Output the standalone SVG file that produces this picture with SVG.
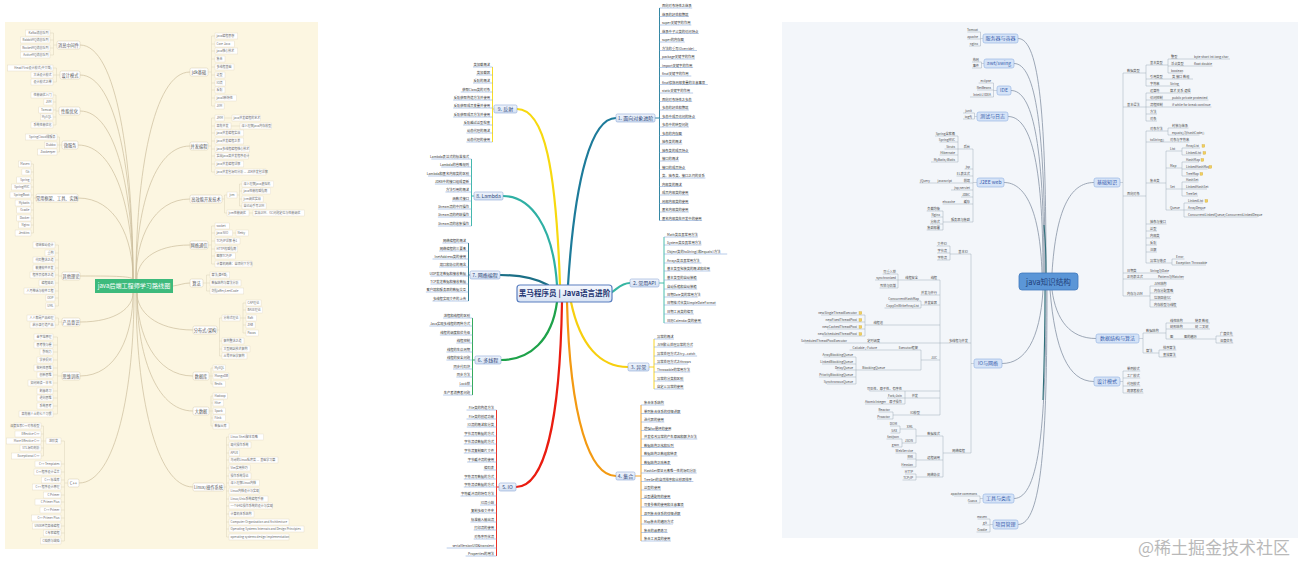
<svg xmlns="http://www.w3.org/2000/svg" width="1298" height="563" viewBox="0 0 1298 563" font-family="'Noto Sans CJK SC','Noto Sans',sans-serif">
<style>
.lb{fill:#fff;stroke:#e0d7c2;stroke-width:.4}
.ln{fill:#fff;stroke:#d6cbb0;stroke-width:.5}
.lt{font-size:3px;fill:#6b6b6b}
.lnt{font-size:4.2px;fill:#555;text-anchor:middle}
.te{text-anchor:end}
.tm{text-anchor:middle}
.lc{fill:none;stroke:#cbbd9c;stroke-width:.7}
.lk{fill:none;stroke:#d9cfb8;stroke-width:.45}
.mt{font-size:3.3px;fill:#333}
.mu{fill:none;stroke:#7ea4d8;stroke-width:.55}
.mn{fill:url(#mg);stroke:#8fa9d6;stroke-width:.6}
.mnt{font-size:5px;fill:#2d4578;text-anchor:middle}
.mc{fill:none;stroke-width:2.2;stroke-linecap:round}
.mb{fill:none;stroke-width:.9}
.rt{font-size:3.2px;fill:#4a4a4a}
.ru{fill:none;stroke:#9aa6b6;stroke-width:.45}
.rn{fill:#d5e3f7;stroke:#8fb0e0;stroke-width:.6}
.rnt{font-size:5px;fill:#3a5fae;text-anchor:middle}
.rc{fill:none;stroke:#8793a5;stroke-width:.8}
.ic{fill:#f1cf5e;stroke:#c9a43a;stroke-width:.3}
</style>
<defs>
<linearGradient id="mg" x1="0" y1="0" x2="0" y2="1"><stop offset="0" stop-color="#f1f5fc"/><stop offset="1" stop-color="#d3e0f3"/></linearGradient>
<linearGradient id="cg" x1="0" y1="0" x2="0" y2="1"><stop offset="0" stop-color="#f7f9fe"/><stop offset="1" stop-color="#d8e3f4"/></linearGradient>
</defs>
<rect width="1298" height="563" fill="#fff"/>

<!-- ================= LEFT MAP ================= -->
<rect x="5" y="22" width="313" height="527" fill="#fcf6e1"/>
<g id="left-connectors">
<path class="lc" d="M80,45C117,45 133,162 133,279M80,75C117,75 133,177 133,279M80,111C117,111 133,195 133,279M78,145C116,145 133,212 133,279M78,198C116,198 133,238 133,279M80,276C110,276 130,276 133,279M80,322C117,322 133,307 133,293M80,376C117,376 133,335 133,293M79,483C116,483 134,388 134,293"/>
<path class="lc" d="M190,72C153,72 136,176 136,279M190,146C153,146 136,212 136,279M190,199C153,199 136,239 136,279M190,245C153,245 137,262 137,279M173,286C180,285 184,283 190,283M193,330C155,330 137,311 137,293M193,376C155,376 137,334 137,293M193,411C155,411 137,352 137,293M193,487C155,487 136,390 136,293"/>
<path class="lk" d="M57,45H53.5M53.5,33V55M50,33H53.5M50,40H53.5M50,48H53.5M50,55H53.5
M60,75H56.5M56.5,68V82M53,68H56.5M53,75H56.5M53,82H56.5
M59,111H56M56,95V125M53,95H56M53,102H56M53,110H56M53,117H56M53,125H56
M62,145H59.5M59.5,137V152M57,137H59.5M57,145H59.5M57,152H59.5
M36,198H33.5M33.5,164V233M31,164H33.5M31,172H33.5M31,180H33.5M31,187H33.5M31,195H33.5M31,203H33.5M31,210H33.5M31,218H33.5M31,225H33.5M31,233H33.5
M62,276H58.5M58.5,245V306M55,245H58.5M55,253H58.5M55,260H58.5M55,268H58.5M55,275H58.5M55,283H58.5M55,291H58.5M55,298H58.5M55,306H58.5
M62,322H58.5M58.5,318V325M55,318H58.5M55,325H58.5
M62,376H57.5M57.5,337V414M53,337H57.5M53,345H57.5M53,352H57.5M53,360H57.5M53,368H57.5M53,375H57.5M53,383H57.5M53,391H57.5M53,398H57.5M53,406H57.5M53,414H57.5
M68,483H64.5M64.5,441V541M61,441H64.5M61,464H64.5M61,472H64.5M61,480H64.5M61,487H64.5M61,495H64.5M61,502H64.5M61,510H64.5M61,518H64.5M61,526H64.5M61,533H64.5M61,541H64.5
M46,441H43.5M43.5,426V456M41,426H43.5M41,434H43.5M41,441H43.5M41,448H43.5M41,456H43.5
M208,72H211.5M211.5,36V106M211.5,36H215M211.5,44H215M211.5,51H215M211.5,59H215M211.5,67H215M211.5,75H215M211.5,83H215M211.5,90H215M211.5,98H215M211.5,106H215
M208,146H211.5M211.5,118V172M211.5,118H215M211.5,126H215M211.5,133H215M211.5,141H215M211.5,149H215M211.5,156H215M211.5,164H215M211.5,172H215M224.1,118H232M231,126H240
M222,199H224.5M224.5,195V213M224.5,195H227M224.5,213H227M237,195H239.5M239.5,184V206M239.5,184H242M239.5,191H242M239.5,199H242M239.5,206H242M249,213H253
M208,245H211.5M211.5,226V264M211.5,226H215M211.5,233H215M211.5,241H215M211.5,249H215M211.5,256H215M211.5,264H215M232.6,233H236
M203,283H206.5M206.5,275V291M206.5,275H210M206.5,283H210M206.5,291H210
M217,330H219.5M219.5,318V356M219.5,318H222M219.5,341H222M219.5,349H222M219.5,356H222M240,318H243M243,303V333M243,303H246M243,310H246M243,318H246M243,325H246M243,333H246
M209,376H211M211,368V384M211,368H213M211,376H213M211,384H213
M209,411H211M211,396V426M211,396H213M211,403H213M211,411H213M211,418H213M211,426H213
M224,487H226.5M226.5,437V537M226.5,437H229M226.5,445H229M226.5,453H229M226.5,460H229M226.5,468H229M226.5,476H229M226.5,483H229M226.5,491H229M226.5,499H229M226.5,506H229M226.5,514H229M226.5,522H229M226.5,529H229M226.5,537H229"/>
</g>
<g id="l-center"><rect x="95" y="279" width="78" height="14" fill="#3dba7c"/><text x="134" y="288.3" font-size="6.1" fill="#fff" text-anchor="middle">java后端工程师学习路线图</text></g>
<g id="l-mq"><rect class="ln" x="57" y="41" width="23" height="8" rx="1.5"/><text class="lnt" x="68.5" y="46.5">消息中间件</text>
<rect class="lb" x="25.5" y="30" width="24.5" height="6"/><text class="lt te" x="48.5" y="34">Kafka消息队列</text>
<rect class="lb" x="20.4" y="37" width="29.6" height="6"/><text class="lt te" x="48.5" y="41">RabbitMQ消息队列</text>
<rect class="lb" x="20.4" y="45" width="29.6" height="6"/><text class="lt te" x="48.5" y="49">RocketMQ消息队列</text>
<rect class="lb" x="20.4" y="52" width="29.6" height="6"/><text class="lt te" x="48.5" y="56">ActiveMQ消息队列</text></g>
<g id="l-pattern"><rect class="ln" x="60" y="71" width="20" height="8" rx="1.5"/><text class="lnt" x="70" y="76.5">设计模式</text>
<rect class="lb" x="7.6" y="65" width="45.4" height="6"/><text class="lt te" x="51.5" y="69">Head First设计模式(中文版)</text>
<rect class="lb" x="31" y="72" width="22" height="6"/><text class="lt te" x="51.5" y="76">大话设计模式</text>
<rect class="lb" x="31" y="79" width="22" height="6"/><text class="lt te" x="51.5" y="83">设计模式之禅</text></g>
<g id="l-perf"><rect class="ln" x="59" y="107" width="21" height="8" rx="1.5"/><text class="lnt" x="69.5" y="112.5">性能优化</text>
<rect class="lb" x="31" y="92" width="22" height="6"/><text class="lt te" x="51.5" y="96">性能调优入门</text>
<rect class="lb" x="43.9" y="99" width="9.1" height="6"/><text class="lt te" x="51.5" y="103">JVM</text>
<rect class="lb" x="38.8" y="107" width="14.2" height="6"/><text class="lt te" x="51.5" y="111">Tomcat</text>
<rect class="lb" x="40.5" y="114" width="12.5" height="6"/><text class="lt te" x="51.5" y="118">MySQL</text>
<rect class="lb" x="31" y="122" width="22" height="6"/><text class="lt te" x="51.5" y="126">系统性能优化</text></g>
<g id="l-micro"><rect class="ln" x="62" y="141" width="16" height="8" rx="1.5"/><text class="lnt" x="70" y="146.5">微服务</text>
<rect class="lb" x="25.3" y="134" width="31.7" height="6"/><text class="lt te" x="55.5" y="138">SpringCloud微服务</text>
<rect class="lb" x="44.5" y="142" width="12.5" height="6"/><text class="lt te" x="55.5" y="146">Dubbo</text>
<rect class="lb" x="37.7" y="149" width="19.3" height="6"/><text class="lt te" x="55.5" y="153">Zookeeper</text></g>
<g id="l-frame"><rect class="ln" x="36" y="194" width="42" height="8" rx="1.5"/><text class="lnt" x="57" y="199.5">常用框架、工具、实践</text>
<rect class="lb" x="18.5" y="161" width="12.5" height="6"/><text class="lt te" x="29.5" y="165">Maven</text>
<rect class="lb" x="21.9" y="169" width="9.1" height="6"/><text class="lt te" x="29.5" y="173">Git</text>
<rect class="lb" x="16.8" y="177" width="14.2" height="6"/><text class="lt te" x="29.5" y="181">Spring</text>
<rect class="lb" x="11.7" y="184" width="19.3" height="6"/><text class="lt te" x="29.5" y="188">SpringMVC</text>
<rect class="lb" x="10" y="192" width="21" height="6"/><text class="lt te" x="29.5" y="196">SpringBoot</text>
<rect class="lb" x="15.1" y="200" width="15.9" height="6"/><text class="lt te" x="29.5" y="204">Mybatis</text>
<rect class="lb" x="16.8" y="207" width="14.2" height="6"/><text class="lt te" x="29.5" y="211">Gradle</text>
<rect class="lb" x="16.8" y="215" width="14.2" height="6"/><text class="lt te" x="29.5" y="219">Docker</text>
<rect class="lb" x="18.5" y="222" width="12.5" height="6"/><text class="lt te" x="29.5" y="226">Nginx</text>
<rect class="lb" x="15.1" y="230" width="15.9" height="6"/><text class="lt te" x="29.5" y="234">Jenkins</text></g>
<g id="l-theory"><rect class="ln" x="62" y="272" width="18" height="8" rx="1.5"/><text class="lnt" x="71" y="277.5">其他理论</text>
<rect class="lb" x="33" y="242" width="22" height="6"/><text class="lt te" x="53.5" y="246">领域驱动设计</text>
<rect class="lb" x="45" y="250" width="10" height="6"/><text class="lt te" x="53.5" y="254">重构</text>
<rect class="lb" x="33" y="257" width="22" height="6"/><text class="lt te" x="53.5" y="261">代码整洁之道</text>
<rect class="lb" x="33" y="265" width="22" height="6"/><text class="lt te" x="53.5" y="269">敏捷软件开发</text>
<rect class="lb" x="30" y="272" width="25" height="6"/><text class="lt te" x="53.5" y="276">程序员修炼之道</text>
<rect class="lb" x="39" y="280" width="16" height="6"/><text class="lt te" x="53.5" y="284">编程珠玑</text>
<rect class="lb" x="24" y="288" width="31" height="6"/><text class="lt te" x="53.5" y="292">人月神话与软件工程</text>
<rect class="lb" x="45.9" y="295" width="9.1" height="6"/><text class="lt te" x="53.5" y="299">OOP</text>
<rect class="lb" x="45.9" y="303" width="9.1" height="6"/><text class="lt te" x="53.5" y="307">UML</text></g>
<g id="l-product"><rect class="ln" x="62" y="318" width="18" height="8" rx="1.5"/><text class="lnt" x="71" y="323.5">产品意识</text>
<rect class="lb" x="27" y="315" width="28" height="6"/><text class="lt te" x="53.5" y="319">人人都是产品经理</text>
<rect class="lb" x="30" y="322" width="25" height="6"/><text class="lt te" x="53.5" y="326">启示录打造产品</text></g>
<g id="l-think"><rect class="ln" x="62" y="372" width="18" height="8" rx="1.5"/><text class="lnt" x="71" y="377.5">思维训练</text>
<rect class="lb" x="34" y="334" width="19" height="6"/><text class="lt te" x="51.5" y="338">金字塔原理</text>
<rect class="lb" x="34" y="342" width="19" height="6"/><text class="lt te" x="51.5" y="346">思考快与慢</text>
<rect class="lb" x="40" y="349" width="13" height="6"/><text class="lt te" x="51.5" y="353">影响力</text>
<rect class="lb" x="37" y="357" width="16" height="6"/><text class="lt te" x="51.5" y="361">学会提问</text>
<rect class="lb" x="34" y="365" width="19" height="6"/><text class="lt te" x="51.5" y="369">批判性思维</text>
<rect class="lb" x="37" y="372" width="16" height="6"/><text class="lt te" x="51.5" y="376">创新思维</text>
<rect class="lb" x="28" y="380" width="25" height="6"/><text class="lt te" x="51.5" y="384">如何阅读一本书</text>
<rect class="lb" x="37" y="388" width="16" height="6"/><text class="lt te" x="51.5" y="392">刻意练习</text>
<rect class="lb" x="37" y="395" width="16" height="6"/><text class="lt te" x="51.5" y="399">逆向思维</text>
<rect class="lb" x="37" y="403" width="16" height="6"/><text class="lt te" x="51.5" y="407">系统思考</text>
<rect class="lb" x="19" y="411" width="34" height="6"/><text class="lt te" x="51.5" y="415">高效能人士的七个习惯</text></g>
<g id="l-cpp"><rect class="ln" x="68" y="479" width="11" height="8" rx="1.5"/><text class="lnt" x="73.5" y="484.5">C++</text>
<rect class="lb" x="46" y="438" width="15" height="6"/><text class="lt tm" x="53.5" y="442.2">进阶类</text>
<rect class="lb" x="14" y="423" width="27" height="6"/><text class="lt te" x="39.5" y="427">深度探索C++对象模型</text>
<rect class="lb" x="15" y="431" width="26" height="6"/><text class="lt te" x="39.5" y="435">Effective C++</text>
<rect class="lb" x="6.4" y="438" width="34.6" height="6"/><text class="lt te" x="39.5" y="442">More Effective C++</text>
<rect class="lb" x="20" y="445" width="21" height="6"/><text class="lt te" x="39.5" y="449">STL源码剖析</text>
<rect class="lb" x="11.5" y="453" width="29.5" height="6"/><text class="lt te" x="39.5" y="457">Exceptional C++</text>
<rect class="lb" x="35" y="461" width="26" height="6"/><text class="lt te" x="59.5" y="465">C++ Templates</text>
<rect class="lb" x="34" y="469" width="27" height="6"/><text class="lt te" x="59.5" y="473">C++程序设计语言</text>
<rect class="lb" x="41.2" y="477" width="19.8" height="6"/><text class="lt te" x="59.5" y="481">C++ 标准库</text>
<rect class="lb" x="32.2" y="484" width="28.8" height="6"/><text class="lt te" x="59.5" y="488">C++ 程序设计原理</text>
<rect class="lb" x="43.4" y="492" width="17.6" height="6"/><text class="lt te" x="59.5" y="496">C Primer</text>
<rect class="lb" x="35" y="499" width="26" height="6"/><text class="lt te" x="59.5" y="503">C Primer Plus</text>
<rect class="lb" x="40" y="507" width="21" height="6"/><text class="lt te" x="59.5" y="511">C++ Primer</text>
<rect class="lb" x="31.5" y="515" width="29.5" height="6"/><text class="lt te" x="59.5" y="519">C++ Primer Plus</text>
<rect class="lb" x="32.2" y="523" width="28.8" height="6"/><text class="lt te" x="59.5" y="527">UNIX环境高级编程</text>
<rect class="lb" x="43.3" y="530" width="17.7" height="6"/><text class="lt te" x="59.5" y="534">C专家编程</text>
<rect class="lb" x="40.3" y="538" width="20.7" height="6"/><text class="lt te" x="59.5" y="542">C陷阱与缺陷</text></g>
<g id="l-jdk"><rect class="ln" x="190" y="68" width="18" height="8" rx="1.5"/><text class="lnt" x="199" y="73.5">jdk基础</text>
<rect class="lb" x="215" y="33" width="22.8" height="6"/><text class="lt" x="216.5" y="37">java编程思想</text>
<rect class="lb" x="215" y="41" width="19.3" height="6"/><text class="lt" x="216.5" y="45">Core Java</text>
<rect class="lb" x="215" y="48" width="22.8" height="6"/><text class="lt" x="216.5" y="52">java核心技术</text>
<rect class="lb" x="215" y="56" width="10" height="6"/><text class="lt" x="216.5" y="60">集合</text>
<rect class="lb" x="215" y="64" width="19" height="6"/><text class="lt" x="216.5" y="68">多线程基础</text>
<rect class="lb" x="215" y="72" width="10" height="6"/><text class="lt" x="216.5" y="76">泛型</text>
<rect class="lb" x="215" y="80" width="10.4" height="6"/><text class="lt" x="216.5" y="84">IO流</text>
<rect class="lb" x="215" y="87" width="10" height="6"/><text class="lt" x="216.5" y="91">反射</text>
<rect class="lb" x="215" y="95" width="21.5" height="6"/><text class="lt" x="216.5" y="99">java8新特性</text>
<rect class="lb" x="215" y="103" width="9.1" height="6"/><text class="lt" x="216.5" y="107">JVM</text></g>
<g id="l-conc"><rect class="ln" x="190" y="142" width="18" height="8" rx="1.5"/><text class="lnt" x="199" y="147.5">并发编程</text>
<rect class="lb" x="215" y="115" width="9.1" height="6"/><text class="lt" x="216.5" y="119">JMM</text>
<rect class="lb" x="232" y="115" width="28.8" height="6"/><text class="lt" x="233.5" y="119">java并发编程的艺术</text>
<rect class="lb" x="215" y="123" width="16" height="6"/><text class="lt" x="216.5" y="127">高效并发</text>
<rect class="lb" x="240" y="123" width="31.8" height="6"/><text class="lt" x="241.5" y="127">深入理解java内存模型</text>
<rect class="lb" x="215" y="130" width="28.8" height="6"/><text class="lt" x="216.5" y="134">java并发编程实战</text>
<rect class="lb" x="215" y="138" width="28.8" height="6"/><text class="lt" x="216.5" y="142">java并发编程之美</text>
<rect class="lb" x="215" y="146" width="34.8" height="6"/><text class="lt" x="216.5" y="150">java多线程编程核心技术</text>
<rect class="lb" x="215" y="153" width="33.5" height="6"/><text class="lt" x="216.5" y="157">实战java高并发程序设计</text>
<rect class="lb" x="215" y="161" width="28.8" height="6"/><text class="lt" x="216.5" y="165">java并发编程详解</text>
<rect class="lb" x="215" y="169" width="51" height="6"/><text class="lt" x="216.5" y="173">java并发包源码分析 — JDK并发包详解</text></g>
<g id="l-eff"><rect class="ln" x="190" y="195" width="32" height="8" rx="1.5"/><text class="lnt" x="206" y="200.5">高效能开发技术</text>
<rect class="lb" x="227" y="192" width="10" height="6"/><text class="lt tm" x="232" y="196">jvm</text>
<rect class="lb" x="242" y="181" width="31.8" height="6"/><text class="lt" x="243.5" y="185">深入理解java虚拟机</text>
<rect class="lb" x="242" y="188" width="28.8" height="6"/><text class="lt" x="243.5" y="192">java性能权威指南</text>
<rect class="lb" x="242" y="196" width="21.1" height="6"/><text class="lt" x="243.5" y="200">jvm调优实战</text>
<rect class="lb" x="242" y="203" width="24.1" height="6"/><text class="lt" x="243.5" y="207">自己动手写JVM</text>
<rect class="lb" x="227" y="210" width="22" height="6"/><text class="lt" x="228.5" y="214">jvm性能调优</text>
<rect class="lb" x="253" y="210" width="51.5" height="6"/><text class="lt" x="254.5" y="214">实战JVM、GC问题定位与性能调优</text></g>
<g id="l-net"><rect class="ln" x="190" y="241" width="18" height="8" rx="1.5"/><text class="lnt" x="199" y="246.5">网络通信</text>
<rect class="lb" x="215" y="223" width="14.2" height="6"/><text class="lt" x="216.5" y="227">socket</text>
<rect class="lb" x="215" y="230" width="17.6" height="6"/><text class="lt" x="216.5" y="234">java NIO</text>
<rect class="lb" x="236" y="230" width="12.5" height="6"/><text class="lt" x="237.5" y="234">Netty</text>
<rect class="lb" x="215" y="238" width="25" height="6"/><text class="lt" x="216.5" y="242">TCP/IP详解 卷1</text>
<rect class="lb" x="215" y="246" width="22.8" height="6"/><text class="lt" x="216.5" y="250">HTTP权威指南</text>
<rect class="lb" x="215" y="253" width="20.2" height="6"/><text class="lt" x="216.5" y="257">图解TCP/IP</text>
<rect class="lb" x="215" y="261" width="37" height="6"/><text class="lt" x="216.5" y="265">计算机网络：自顶向下方法</text></g>
<g id="l-algo"><rect class="ln" x="190" y="279" width="13" height="8" rx="1.5"/><text class="lnt" x="196.5" y="284.5">算法</text>
<rect class="lb" x="210" y="272" width="19.8" height="6"/><text class="lt" x="211.5" y="276">算法(第4版)</text>
<rect class="lb" x="210" y="280" width="31" height="6"/><text class="lt" x="211.5" y="284">数据结构与算法分析</text>
<rect class="lb" x="210" y="288" width="33.8" height="6"/><text class="lt" x="211.5" y="292">剑指offer/LeetCode</text></g>
<g id="l-dist"><rect class="ln" x="193" y="326" width="24" height="8" rx="1.5"/><text class="lnt" x="205" y="331.5">分布式/架构</text>
<rect class="lb" x="222" y="315" width="18" height="6"/><text class="lt tm" x="231" y="319">分布式理论</text>
<rect class="lb" x="246" y="300" width="15.1" height="6"/><text class="lt" x="247.5" y="304">CAP理论</text>
<rect class="lb" x="246" y="307" width="16.8" height="6"/><text class="lt" x="247.5" y="311">BASE理论</text>
<rect class="lb" x="246" y="315" width="10.8" height="6"/><text class="lt" x="247.5" y="319">Raft</text>
<rect class="lb" x="246" y="322" width="9.1" height="6"/><text class="lt" x="247.5" y="326">ZAB</text>
<rect class="lb" x="246" y="330" width="12.5" height="6"/><text class="lt" x="247.5" y="334">Paxos</text>
<rect class="lb" x="222" y="338" width="22" height="6"/><text class="lt" x="223.5" y="342">架构整洁之道</text>
<rect class="lb" x="222" y="346" width="28" height="6"/><text class="lt" x="223.5" y="350">大型网站技术架构</text>
<rect class="lb" x="222" y="353" width="25" height="6"/><text class="lt" x="223.5" y="357">从零开始学架构</text></g>
<g id="l-db"><rect class="ln" x="193" y="372" width="16" height="8" rx="1.5"/><text class="lnt" x="201" y="377.5">数据库</text>
<rect class="lb" x="213" y="365" width="12.5" height="6"/><text class="lt" x="214.5" y="369">MySQL</text>
<rect class="lb" x="213" y="373" width="15.9" height="6"/><text class="lt" x="214.5" y="377">MongoDB</text>
<rect class="lb" x="213" y="381" width="12.5" height="6"/><text class="lt" x="214.5" y="385">Redis</text></g>
<g id="l-bigdata"><rect class="ln" x="193" y="407" width="16" height="8" rx="1.5"/><text class="lnt" x="201" y="412.5">大数据</text>
<rect class="lb" x="213" y="393" width="14.2" height="6"/><text class="lt" x="214.5" y="397">Hadoop</text>
<rect class="lb" x="213" y="400" width="10.8" height="6"/><text class="lt" x="214.5" y="404">Hive</text>
<rect class="lb" x="213" y="408" width="12.5" height="6"/><text class="lt" x="214.5" y="412">Spark</text>
<rect class="lb" x="213" y="415" width="12.5" height="6"/><text class="lt" x="214.5" y="419">Flink</text>
<rect class="lb" x="213" y="423" width="16" height="6"/><text class="lt" x="214.5" y="427">数据仓库</text></g>
<g id="l-linux"><rect class="ln" x="193" y="483" width="31" height="8" rx="1.5"/><text class="lnt" x="208.5" y="488.5">Linux/操作系统</text>
<rect class="lb" x="229" y="434" width="34.7" height="6"/><text class="lt" x="230.5" y="438">Linux Shell脚本攻略</text>
<rect class="lb" x="229" y="442" width="22" height="6"/><text class="lt" x="230.5" y="446">现代操作系统</text>
<rect class="lb" x="229" y="450" width="10.8" height="6"/><text class="lt" x="230.5" y="454">APUE</text>
<rect class="lb" x="229" y="457" width="49" height="6"/><text class="lt" x="230.5" y="461">鸟哥的Linux私房菜 — 基础学习篇</text>
<rect class="lb" x="229" y="465" width="21.1" height="6"/><text class="lt" x="230.5" y="469">Vim实用技巧</text>
<rect class="lb" x="229" y="473" width="22" height="6"/><text class="lt" x="230.5" y="477">操作系统导论</text>
<rect class="lb" x="229" y="480" width="30.5" height="6"/><text class="lt" x="230.5" y="484">深入理解Linux内核</text>
<rect class="lb" x="229" y="488" width="30.5" height="6"/><text class="lt" x="230.5" y="492">Linux内核设计与实现</text>
<rect class="lb" x="229" y="496" width="39" height="6"/><text class="lt" x="230.5" y="500">Linux/Unix系统编程手册</text>
<rect class="lb" x="229" y="503" width="43.4" height="6"/><text class="lt" x="230.5" y="507">一个64位操作系统的设计与实现</text>
<rect class="lb" x="229" y="511" width="25" height="6"/><text class="lt" x="230.5" y="515">计算机体系结构</text>
<rect class="lb" x="229" y="519" width="60" height="6"/><text class="lt" x="230.5" y="523">Computer Organization and Architecture</text>
<rect class="lb" x="229" y="526" width="75" height="6"/><text class="lt" x="230.5" y="530">Operating Systems Internals and Design Principles</text>
<rect class="lb" x="229" y="534" width="60" height="6"/><text class="lt" x="230.5" y="538">operating systems design implementation</text></g>

<!-- ================= MIDDLE MAP ================= -->
<g id="middle-connectors">
<path class="mc" stroke="#f7d90f" d="M560,285C556,170 545,109 517,109"/>
<path class="mc" stroke="#2fb0a4" d="M557,285C553,225 530,196 503,196"/>
<path class="mc" stroke="#1b6f86" d="M548,285C535,278 520,275 500,275"/>
<path class="mc" stroke="#1ea24a" d="M557,302C552,340 530,360 501,360"/>
<path class="mc" stroke="#ea1c10" d="M562,302C560,420 545,487 516,487"/>
<path class="mc" stroke="#f39a12" d="M567,302C570,420 590,476 616,476"/>
<path class="mc" stroke="#f7cf0e" d="M571,302C580,345 600,367 628,367"/>
<path class="mc" stroke="#35b5a2" d="M612,292C618,288 622,283 630,283"/>
<path class="mc" stroke="#1d7b9a" d="M568,285C575,175 592,118 616,118"/>
<path class="mb" stroke="#f7d90f" d="M494,109H492.5M492.5,67V142"/>
<path class="mb" stroke="#2fb0a4" d="M474,196H471.5M471.5,159V226"/>
<path class="mb" stroke="#1b6f86" d="M470,275H468.5M468.5,243V301"/>
<path class="mb" stroke="#1ea24a" d="M475,360H472.5M472.5,318V395"/>
<path class="mb" stroke="#ea1c10" d="M499,487H496.5M496.5,410V556"/>
<path class="mb" stroke="#1d7b9a" d="M655,118H659.5M659.5,8V220.5"/>
<path class="mb" stroke="#35b5a2" d="M659,283H664M664,237V323"/>
<path class="mb" stroke="#f7cf0e" d="M649,367H654M654,339V389"/>
<path class="mb" stroke="#f39a12" d="M635,476H641M641,405V541"/>
<path class="mu" d="M473,67H492.5M476.3,75H492.5M473,83H492.5M460.7,92H492.5M453.2,100H492.5M453.2,108H492.5M453.2,117H492.5M463.1,125H492.5M466.4,133H492.5M466.4,142H492.5
M431.3,159H471.5M441.2,167H471.5M428,176H471.5M434.9,184H471.5M445.4,192H471.5M452,201H471.5M437.9,209H471.5M437.9,217H471.5M437.9,226H471.5
M442.4,243H468.5M439.1,251H468.5M432.5,259H468.5M439.1,267H468.5M430.4,276H468.5M430.4,284H468.5M425.9,292H468.5M432.5,301H468.5
M443.1,318H472.5M429.3,326H472.5M439.8,335H472.5M456.3,343H472.5M446.4,352H472.5M446.4,360H472.5M453,369H472.5M456.3,377H472.5M459,386H472.5M443.1,395H472.5
M466.5,410H496.5M466.5,419H496.5M466.8,427H496.5M463.8,436H496.5M463.8,444H496.5M463.8,453H496.5M467.1,462H496.5M483.6,470H496.5M463.8,479H496.5M463.8,487H496.5M460.5,496H496.5M480,505H496.5M470.4,513H496.5M470.4,522H496.5M473.7,530H496.5M473.7,539H496.5M446.7,548H496.5M465.6,556H496.5
M659.5,8H692.2M659.5,16.5H688.9M659.5,25H691.3M659.5,33.5H698.8M659.5,42H684.7M659.5,50.5H697M659.5,59H694.9M659.5,67.5H693.1M659.5,76H691.3M659.5,84.5H707.8M659.5,93H693.1M659.5,101.5H692.2M659.5,110H688.9M659.5,118.5H695.5M659.5,127H688.9M659.5,135.5H682.3M659.5,144H682.3M659.5,152.5H688.9M659.5,161H679M659.5,169.5H685.6M659.5,178H705.4M659.5,186.5H682.3M659.5,195H688.9M659.5,203.5H688.9M659.5,212H688.9M659.5,220.5H702.1
M664,237H697.8M664,245H701.4M664,254H727.2M664,263H701.4M664,271H710.4M664,280H697.2M664,289H697.2M664,297H697.8M664,305H716.1M664,314H693.9M664,323H701.7
M654,339H674M654,347H692.6M654,356H697.1M654,364H688.1M654,372H690.2M654,381H683.9M654,389H683.9
M641,405H664.3M641,413.5H680.8M641,422H664.3M641,430.5H669.7M641,439H697.3M641,447.5H674.2M641,456H677.5M641,464.5H670.9M641,473H696.7M641,481.5H693.4M641,490H661M641,498.5H670.9M641,507H684.1M641,515.5H680.8M641,524H673M641,532.5H667.6M641,541H670.9"/>
</g>
<g id="m-center"><rect x="517" y="285" width="95" height="17" rx="3" fill="url(#cg)" stroke="#5b7fc0" stroke-width="1.2"/><text x="564.5" y="296.3" font-size="7.6" font-weight="bold" fill="#1e3470" text-anchor="middle">黑马程序员 | Java语言进阶</text></g>
<g id="m-reflect"><rect class="mn" x="494" y="105" width="23" height="8" rx="1.5"/><text class="mnt" x="505.5" y="110.8">9. 反射</text>
<text class="mt te" x="490" y="66">类加载概述</text><text class="mt te" x="490" y="74">类加载器</text><text class="mt te" x="490" y="82">反射的概述</text><text class="mt te" x="490" y="91">获取Class类的对象</text><text class="mt te" x="490" y="99">反射获取构造方法并使用</text><text class="mt te" x="490" y="107">反射获取成员变量并使用</text><text class="mt te" x="490" y="116">反射获取成员方法并使用</text><text class="mt te" x="490" y="124">反射越过泛型检查</text><text class="mt te" x="490" y="132">动态代理的概述</text><text class="mt te" x="490" y="141">动态代理的使用</text></g>
<g id="m-lambda"><rect class="mn" x="474" y="192" width="29" height="8" rx="1.5"/><text class="mnt" x="488.5" y="197.8">8. Lambda</text>
<text class="mt te" x="469" y="158">Lambda表达式的标准格式</text><text class="mt te" x="469" y="166">Lambda的省略规则</text><text class="mt te" x="469" y="175">Lambda和匿名内部类的区别</text><text class="mt te" x="469" y="183">JDK8中的接口组成更新</text><text class="mt te" x="469" y="191">方法引用的概述</text><text class="mt te" x="469" y="200">函数式接口</text><text class="mt te" x="469" y="208">Stream流的中间操作</text><text class="mt te" x="469" y="216">Stream流的终结操作</text><text class="mt te" x="469" y="225">Stream流的收集操作</text></g>
<g id="m-net"><rect class="mn" x="470" y="271" width="30" height="8" rx="1.5"/><text class="mnt" x="485" y="276.8">7. 网络编程</text>
<text class="mt te" x="466" y="242">网络编程的概述</text><text class="mt te" x="466" y="250">网络编程的三要素</text><text class="mt te" x="466" y="258">InetAddress类的使用</text><text class="mt te" x="466" y="266">端口和协议的概念</text><text class="mt te" x="466" y="275">UDP发送数据和接收数据</text><text class="mt te" x="466" y="283">TCP发送数据和接收数据</text><text class="mt te" x="466" y="291">客户端和服务器的数据交互</text><text class="mt te" x="466" y="300">多线程实现文件的上传</text></g>
<g id="m-thread"><rect class="mn" x="475" y="356" width="26" height="8" rx="1.5"/><text class="mnt" x="488" y="361.8">6. 多线程</text>
<text class="mt te" x="470" y="317">进程和线程的区别</text><text class="mt te" x="470" y="325">Java实现多线程的两种方式</text><text class="mt te" x="470" y="334">线程的调度和优先级</text><text class="mt te" x="470" y="342">线程控制</text><text class="mt te" x="470" y="351">线程的生命周期</text><text class="mt te" x="470" y="359">线程的安全问题</text><text class="mt te" x="470" y="368">同步代码块</text><text class="mt te" x="470" y="376">同步方法</text><text class="mt te" x="470" y="385">Lock锁</text><text class="mt te" x="470" y="394">生产者消费者问题</text></g>
<g id="m-io"><rect class="mn" x="499" y="483" width="17" height="8" rx="1.5"/><text class="mnt" x="507.5" y="488.8">5. IO</text>
<text class="mt te" x="494" y="409">File类的构造方法</text><text class="mt te" x="494" y="418">File类的创建功能</text><text class="mt te" x="494" y="426">IO流的概述和分类</text><text class="mt te" x="494" y="435">字节流写数据的方式</text><text class="mt te" x="494" y="443">字节流读数据的方式</text><text class="mt te" x="494" y="452">字节流复制图片文件</text><text class="mt te" x="494" y="461">字节缓冲流的使用</text><text class="mt te" x="494" y="469">编码表</text><text class="mt te" x="494" y="478">字符流写数据的方式</text><text class="mt te" x="494" y="486">字符流读数据的方式</text><text class="mt te" x="494" y="495">字符缓冲流的特有方法</text><text class="mt te" x="494" y="504">IO流小结</text><text class="mt te" x="494" y="512">复制多级文件夹</text><text class="mt te" x="494" y="521">标准输入输出流</text><text class="mt te" x="494" y="529">打印流的使用</text><text class="mt te" x="494" y="538">对象序列化流</text><text class="mt te" x="494" y="547">serialVersionUID&amp;transient</text><text class="mt te" x="494" y="555">Properties的用法</text></g>
<g id="m-oop"><rect class="mn" x="616" y="114" width="39" height="8" rx="1.5"/><text class="mnt" x="635.5" y="119.8">1. 面向对象进阶</text>
<text class="mt" x="662" y="7">面向对象特性之继承</text><text class="mt" x="662" y="15.5">继承的好处和弊端</text><text class="mt" x="662" y="24">super关键字的作用</text><text class="mt" x="662" y="32.5">继承中子父类的访问特点</text><text class="mt" x="662" y="41">super的内存图</text><text class="mt" x="662" y="49.5">方法的重写(Override)</text><text class="mt" x="662" y="58">package关键字的作用</text><text class="mt" x="662" y="66.5">import关键字的作用</text><text class="mt" x="662" y="75">final关键字的作用</text><text class="mt" x="662" y="83.5">final修饰局部变量的注意事项</text><text class="mt" x="662" y="92">static关键字的作用</text><text class="mt" x="662" y="100.5">面向对象特性之多态</text><text class="mt" x="662" y="109">多态的好处和弊端</text><text class="mt" x="662" y="117.5">多态中成员访问的特点</text><text class="mt" x="662" y="126">多态中的转型问题</text><text class="mt" x="662" y="134.5">多态的内存图</text><text class="mt" x="662" y="143">抽象类的概述</text><text class="mt" x="662" y="151.5">抽象类的成员特点</text><text class="mt" x="662" y="160">接口的概述</text><text class="mt" x="662" y="168.5">接口的成员特点</text><text class="mt" x="662" y="177">类、抽象类、接口之间的关系</text><text class="mt" x="662" y="185.5">内部类的概述</text><text class="mt" x="662" y="194">成员内部类的使用</text><text class="mt" x="662" y="202.5">局部内部类的使用</text><text class="mt" x="662" y="211">匿名内部类的使用</text><text class="mt" x="662" y="219.5">匿名内部类在开发中的使用</text></g>
<g id="m-api"><rect class="mn" x="630" y="279" width="29" height="8" rx="1.5"/><text class="mnt" x="644.5" y="284.8">2. 常用API</text>
<text class="mt" x="667" y="236">Math类及其常用方法</text><text class="mt" x="667" y="244">System类及其常用方法</text><text class="mt" x="667" y="253">Object类的toString()和equals()方法</text><text class="mt" x="667" y="262">Arrays类及其常用方法</text><text class="mt" x="667" y="270">基本类型包装类的概述和应用</text><text class="mt" x="667" y="279">基本类型的自动装箱</text><text class="mt" x="667" y="288">自动拆箱和自动装箱</text><text class="mt" x="667" y="296">日期Date类的常用方法</text><text class="mt" x="667" y="304">日期格式化类SimpleDateFormat</text><text class="mt" x="667" y="313">日期工具类的编写</text><text class="mt" x="667" y="322">日历Calendar类的使用</text></g>
<g id="m-exc"><rect class="mn" x="628" y="363" width="21" height="8" rx="1.5"/><text class="mnt" x="638.5" y="368.8">3. 异常</text>
<text class="mt" x="657" y="338">异常的概述</text><text class="mt" x="657" y="346">JVM默认处理异常的方式</text><text class="mt" x="657" y="355">异常处理方式之try...catch</text><text class="mt" x="657" y="363">异常处理方式之throws</text><text class="mt" x="657" y="371">Throwable的常用方法</text><text class="mt" x="657" y="380">异常的分类和区别</text><text class="mt" x="657" y="388">自定义异常的使用</text></g>
<g id="m-coll"><rect class="mn" x="616" y="472" width="19" height="8" rx="1.5"/><text class="mnt" x="625.5" y="477.8">4. 集合</text>
<text class="mt" x="644" y="404">集合体系结构</text><text class="mt" x="644" y="412.5">单列集合体系的详细讲解</text><text class="mt" x="644" y="421">迭代器的使用</text><text class="mt" x="644" y="429.5">增强for循环的使用</text><text class="mt" x="644" y="438">并发修改异常的产生原因和解决办法</text><text class="mt" x="644" y="446.5">数据结构之栈和队列</text><text class="mt" x="644" y="455">数据结构之数组和链表</text><text class="mt" x="644" y="463.5">数据结构之哈希表</text><text class="mt" x="644" y="472">HashSet保证元素唯一性的源码分析</text><text class="mt" x="644" y="480.5">TreeSet的自然排序和比较器排序</text><text class="mt" x="644" y="489">泛型的使用</text><text class="mt" x="644" y="497.5">泛型通配符的使用</text><text class="mt" x="644" y="506">可变参数的使用和注意事项</text><text class="mt" x="644" y="514.5">双列集合体系的详细讲解</text><text class="mt" x="644" y="523">Map集合的遍历方式</text><text class="mt" x="644" y="531.5">集合的嵌套练习</text><text class="mt" x="644" y="540">集合工具类的使用</text></g>

<!-- ================= RIGHT MAP ================= -->
<rect x="782" y="22" width="516" height="516" fill="#f3f6fa"/>
<g id="right-connectors">
<path class="rc" d="M1046,273C1046,120 1040,38.5 1018,38.5M1045,273C1045,130 1036,63.5 1014,63.5M1044,273C1044,140 1032,90.5 1011,90.5M1043,273C1043,160 1030,116.5 1008,116.5M1042,273C1040,210 1025,182.5 1004,182.5M1052,273C1056,210 1070,182.5 1094,182.5M1043,290C1040,340 1025,363.5 1002,363.5M1046,290C1046,420 1040,498.5 1014,498.5M1047,290C1047,440 1042,524.5 1018,524.5M1052,290C1056,320 1070,338.5 1096,338.5M1050,290C1055,350 1068,381.5 1094,381.5"/>
<path d="M1046,273C1046,250 1045,235 1044,225M1045,290C1045,330 1044,370 1043,400" fill="none" stroke="#2f6f7a" stroke-width="1.1"/>
<path class="ru" d="M983,38.5H980.5M980.5,32V46M967.3,32H980.5M967.3,39H980.5M969,46H980.5
M984,63.5H981.5M981.5,62V68M972,62H981.5M972,68H981.5
M997,90.5H993.5M993.5,83V97M978.6,83H993.5M977,90H993.5M970,97H993.5
M977,116.5H974.5M974.5,113V119M963,113H974.5M963,119H974.5
M977,182.5H973M973,149V222M963,149H973M963,149H958M958,136V162M935,136H958M939.5,142H958M944.5,149H958M939.5,155H958M931,162H958M964.5,169H973M956.5,176H973M963,183H973M919.5,183H963M951,190H973M961,197H973M942.6,204H973M950.5,222H973M950.5,222H943M943,211V230M926.7,211H943M931,217H943M930,224H943M926.7,230H943
M974,363.5H971M971,254V453M957.7,254H971M957.7,254H950M950,246V260M936.7,246H950M937,253H950M937,260H950
M948.3,343H971M940,343H948.3M940,280V415M930,280H940M904.7,280H930M904.7,280H898M898,274V288M882.7,274H898M875,280H898M879.5,288H898M920.5,295H940M923.7,305H940M923.7,305H921M921,301V308M889.6,301H921M884.5,308H921
M873,325H940M873,325H865M865,315V336M821,315H865M828.5,322H865M827,329H865M822.5,336H865M804.5,343H940
M931,360H940M931,360H921M921,350V370M849.5,350H921M863,370H921M863,370H856M856,357V384M823.7,357H856M822,364H856M836.5,370H856M818.9,377H856M826.9,384H856
M869.5,391H940M911.5,398H940M911.5,398H905M905,391V404M887,398H905M865,404H905M910,415H940M910,415H893M893,412V419M878.5,412H893M877,419H893
M952,453H971M952,453H943M943,436V477M927,436H943M927,436H916M916,429V443M906,429H916M906,429H900M900,426V433M890,426H900M890.5,433H900M904.5,443H916M904.5,443H902M902,439V447M886.5,439H902M891.7,447H902M927,460H943M927,460H916M916,453V467M895.5,453H916M907,459H916M901.5,467H916M927,477H943M927,477H916M916,474V480M905,474H916M902.5,480H916
M983,498.5H980M980,496V503M954,496H980M968,503H980
M993,524.5H990M990,519V532M977.5,519H990M982,525H990M976.5,532H990
M1120,182.5H1123M1123,73V296M1123,73H1140.3M1140.3,73H1146M1146,65V86M1146,65H1163.3M1163.3,65H1168M1168,59V73M1168,59H1230M1168,66H1212.5M1168,73H1183M1146,79H1193M1146,86H1180
M1123,107H1140.3M1140.3,107H1146M1146,93V121M1146,93H1191M1146,100H1208.5M1146,107H1211.5M1146,114H1157M1146,121H1157
M1123,196H1140.3M1140.3,196H1146M1146,131V263M1146,131H1163.3M1163.3,131H1168M1168,128V135M1168,128H1188.5M1168,135H1199.5M1146,142H1189.5M1146,183H1160M1160,183H1166M1166,151V210M1166,151H1176M1176,151H1182M1182,148V155M1182,148H1200M1182,155H1201M1166,168H1176.5M1176.5,168H1182M1182,162V176M1182,162H1199M1182,169H1207.5M1182,176H1198.5M1166,189H1175.5M1175.5,189H1182M1182,182V196M1182,182H1198.5M1182,189H1207M1182,196H1198M1166,210H1179.5M1179.5,210H1184M1184,203V217M1184,203H1203M1184,210H1204.5M1184,217H1257.5M1146,224H1166.5M1146,231H1157M1146,238H1160M1146,245H1157M1146,252H1157M1146,263H1166.5M1166.5,263H1172M1172,259V265M1172,259H1184.5M1172,265H1206
M1123,273H1168.5M1123,279H1184M1123,296H1142.5M1142.5,296H1150M1150,286V307M1150,286H1166.3M1150,293H1173.7M1150,300H1171M1150,307H1177
M1139,338.5H1143M1143,333V353M1143,333H1159.3M1159.3,333H1166M1166,323V339M1166,323H1210M1166,329H1210M1166,339H1197.3M1197.3,339H1216M1216,336V343M1216,336H1233.3M1216,343H1233.3M1143,353H1153M1153,353H1159M1159,350V357M1159,350H1176.3M1159,357H1176.3
M1120,381.5H1123M1123,371V393M1123,371H1140.3M1123,378H1140.3M1123,386H1140.3M1123,393H1143.5"/>
</g>
<g id="r-center"><rect x="1019" y="273" width="59" height="17" rx="3" fill="#5b96d7" stroke="#3f78bd" stroke-width=".8"/><text x="1048.5" y="284.6" font-size="7.6" fill="#1f3f7a" text-anchor="middle">java知识结构</text></g>
<g id="r-server"><rect class="rn" x="983" y="34" width="35" height="9" rx="2"/><text class="rnt" x="1000.5" y="40.3">服务器与容器</text>
<text class="rt te" x="978" y="31">Tomcat</text><text class="rt te" x="978" y="38">apache</text><text class="rt te" x="978" y="45">nginx</text></g>
<g id="r-awt"><rect class="rn" x="984" y="59" width="30" height="9" rx="2"/><text class="rnt" x="999" y="65.3">awt/swing</text>
<text class="rt te" x="979" y="61">布局</text><text class="rt te" x="979" y="67">事件</text></g>
<g id="r-ide"><rect class="rn" x="997" y="86" width="14" height="9" rx="2"/><text class="rnt" x="1004" y="92.3">IDE</text>
<text class="rt te" x="991" y="82">eclipse</text><text class="rt te" x="991" y="89">NetBeans</text><text class="rt te" x="991" y="96">IntelliJ IDEA</text></g>
<g id="r-test"><rect class="rn" x="977" y="112" width="31" height="9" rx="2"/><text class="rnt" x="992.5" y="118.3">测试与日志</text>
<text class="rt te" x="972" y="112">junit</text><text class="rt te" x="972" y="118">log4j</text></g>
<g id="r-j2ee"><rect class="rn" x="977" y="178" width="27" height="9" rx="2"/><text class="rnt" x="990.5" y="184.3">J2EE web</text>
<text class="rt te" x="970" y="148">后台</text><text class="rt te" x="955" y="135">Spring全家桶</text><text class="rt te" x="955" y="141">SpringMVC</text><text class="rt te" x="955" y="148">Struts</text><text class="rt te" x="955" y="154">Hibernate</text><text class="rt te" x="955" y="161">MyBatis/iBatis</text>
<text class="rt te" x="970" y="168">jsp</text><text class="rt te" x="970" y="175">EL表达式</text><text class="rt te" x="970" y="182">前端</text><text class="rt te" x="952" y="182">javascript</text><text class="rt te" x="930" y="182">jQuery</text>
<text class="rt te" x="970" y="189">jsp/servlet</text><text class="rt te" x="970" y="196">JDBC</text><text class="rt te" x="970" y="203">缓存</text><text class="rt te" x="955" y="203">ehcache</text>
<text class="rt te" x="970" y="221">服务器与集群</text><text class="rt te" x="940" y="210">负载均衡</text><text class="rt te" x="940" y="216">Nginx</text><text class="rt te" x="940" y="223">分布式</text><text class="rt te" x="940" y="229">集群部署</text></g>
<g id="r-io"><rect class="rn" x="974" y="359" width="28" height="9" rx="2"/><text class="rnt" x="988" y="365.3">IO与网络</text>
<text class="rt te" x="968" y="253">基本IO</text><text class="rt te" x="947" y="245">文件IO</text><text class="rt te" x="947" y="252">字节流</text><text class="rt te" x="947" y="259">字符流</text>
<text class="rt te" x="968" y="342">多线程与并发</text>
<text class="rt te" x="937" y="279">线程</text><text class="rt te" x="918" y="279">线程安全</text><text class="rt te" x="896" y="273">可重入锁</text><text class="rt te" x="896" y="279">synchronized</text><text class="rt te" x="896" y="287">死锁与饥饿</text>
<text class="rt te" x="937" y="294">并发与并行</text><text class="rt te" x="937" y="304">并发容器</text><text class="rt te" x="919" y="300">ConcurrentHashMap</text><text class="rt te" x="919" y="307">CopyOnWriteArrayList</text>
<text class="rt te" x="883" y="324">线程池</text><text class="rt te" x="857" y="314">newSingleThreadExecutor</text><text class="rt te" x="857" y="321">newFixedThreadPool</text><text class="rt te" x="857" y="328">newCachedThreadPool</text><text class="rt te" x="857" y="335">newScheduledThreadPool</text>
<rect class="ic" x="859" y="311.6" width="2.8" height="2.8"/><rect class="ic" x="859" y="318.6" width="2.8" height="2.8"/><rect class="ic" x="859" y="325.6" width="2.8" height="2.8"/><rect class="ic" x="859" y="332.6" width="2.8" height="2.8"/>
<text class="rt te" x="880" y="342">定时调度</text><text class="rt te" x="847" y="342">ScheduledThreadPoolExecutor</text>
<text class="rt te" x="937" y="359">JUC</text><text class="rt te" x="918" y="349">Executor框架</text><text class="rt te" x="877" y="349">Callable / Future</text>
<text class="rt te" x="885" y="369">BlockingQueue</text><text class="rt te" x="853" y="356">ArrayBlockingQueue</text><text class="rt te" x="853" y="363">LinkedBlockingQueue</text><text class="rt te" x="853" y="369">DelayQueue</text><text class="rt te" x="853" y="376">PriorityBlockingQueue</text><text class="rt te" x="853" y="383">SynchronousQueue</text>
<text class="rt te" x="902" y="390">可见性、原子性、有序性</text><text class="rt te" x="918" y="397">并发</text><text class="rt te" x="902" y="397">Fork/Join</text><text class="rt te" x="902" y="403">原子操作</text><text class="rt te" x="886" y="403">AtomicInteger</text>
<text class="rt te" x="920" y="414">IO模型</text><text class="rt te" x="890" y="411">Reactor</text><text class="rt te" x="890" y="418">Proactor</text>
<text class="rt te" x="965" y="452">网络编程</text><text class="rt te" x="940" y="435">数据格式</text><text class="rt te" x="913" y="428">XML</text><text class="rt te" x="897" y="425">DOM</text><text class="rt te" x="897" y="432">SAX</text><text class="rt te" x="913" y="442">JSON</text><text class="rt te" x="899" y="438">fastjson</text><text class="rt te" x="899" y="446">gson</text>
<text class="rt te" x="940" y="459">远程调用</text><text class="rt te" x="913" y="452">WebService</text><text class="rt te" x="913" y="458">RMI</text><text class="rt te" x="913" y="466">Hessian</text>
<text class="rt te" x="940" y="476">网络协议</text><text class="rt te" x="913" y="473">HTTP</text><text class="rt te" x="913" y="479">TCP/IP</text></g>
<g id="r-tools"><rect class="rn" x="983" y="494" width="31" height="9" rx="2"/><text class="rnt" x="998.5" y="500.3">工具与类库</text>
<text class="rt te" x="977" y="495">apache commons</text><text class="rt te" x="977" y="502">Guava</text></g>
<g id="r-proj"><rect class="rn" x="993" y="520" width="25" height="9" rx="2"/><text class="rnt" x="1005.5" y="526.3">项目管理</text>
<text class="rt te" x="987" y="518">maven</text><text class="rt te" x="987" y="524">git</text><text class="rt te" x="987" y="531">Gradle</text></g>
<g id="r-basic"><rect class="rn" x="1094" y="178" width="26" height="9" rx="2"/><text class="rnt" x="1107" y="184.3">基础知识</text>
<text class="rt" x="1127" y="72">数据类型</text><text class="rt" x="1150" y="64">基本类型</text><text class="rt" x="1171" y="58">整型</text><text class="rt" x="1194" y="58">byte short int long char</text><text class="rt" x="1171" y="65">浮点类型</text><text class="rt" x="1194" y="65">float double</text><text class="rt" x="1171" y="72">boolean</text><text class="rt" x="1150" y="78">引用类型</text><text class="rt" x="1172" y="78">类 接口 数组</text><text class="rt" x="1150" y="85">字符串</text><text class="rt" x="1170" y="85">String</text>
<text class="rt" x="1127" y="106">基本语法</text><text class="rt" x="1150" y="92">运算符</text><text class="rt" x="1170" y="92">算术 关系 逻辑</text><text class="rt" x="1150" y="99">访问控制</text><text class="rt" x="1172" y="99">public private protected</text><text class="rt" x="1150" y="106">流程控制</text><text class="rt" x="1172" y="106">if while for break continue</text><text class="rt" x="1150" y="113">方法</text><text class="rt" x="1150" y="120">对象</text>
<text class="rt" x="1127" y="195">面向对象</text><text class="rt" x="1150" y="130">对象方法</text><text class="rt" x="1172" y="127">封装与继承</text><text class="rt" x="1172" y="134">equals()与hashCode()</text><text class="rt" x="1150" y="141">toString()</text><text class="rt" x="1170" y="141">对象与字符串</text>
<text class="rt" x="1150" y="182">集合类</text><text class="rt" x="1170" y="150">List</text><text class="rt" x="1186" y="147">ArrayList</text><text class="rt" x="1186" y="154">LinkedList</text><text class="rt" x="1170" y="167">Map</text><text class="rt" x="1186" y="161">HashMap</text><text class="rt" x="1186" y="168">LinkedHashMap</text><text class="rt" x="1186" y="175">TreeMap</text><text class="rt" x="1170" y="188">Set</text><text class="rt" x="1186" y="181">HashSet</text><text class="rt" x="1186" y="188">LinkedHashSet</text><text class="rt" x="1186" y="195">TreeSet</text><text class="rt" x="1170" y="209">Queue</text><text class="rt" x="1188" y="202">LinkedList</text><text class="rt" x="1188" y="209">ArrayDeque</text><text class="rt" x="1188" y="216">ConcurrentLinkedQueue/ConcurrentLinkedDeque</text>
<rect class="ic" x="1202" y="144.5" width="2.8" height="2.8"/><rect class="ic" x="1203" y="151.5" width="2.8" height="2.8"/><rect class="ic" x="1201" y="158.5" width="2.8" height="2.8"/><rect class="ic" x="1209" y="165.5" width="2.8" height="2.8"/><rect class="ic" x="1200" y="172.5" width="2.8" height="2.8"/><rect class="ic" x="1205" y="199.5" width="2.8" height="2.8"/>
<text class="rt" x="1150" y="223">抽象与接口</text><text class="rt" x="1150" y="230">泛型</text><text class="rt" x="1150" y="237">内部类</text><text class="rt" x="1150" y="244">反射</text><text class="rt" x="1150" y="251">注解</text><text class="rt" x="1150" y="262">异常与错误</text><text class="rt" x="1176" y="258">Error</text><text class="rt" x="1176" y="264">Exception Throwable</text>
<text class="rt" x="1127" y="272">日期类</text><text class="rt" x="1150" y="272">String与Date</text><text class="rt" x="1127" y="278">正则表达式</text><text class="rt" x="1158" y="278">Pattern与Matcher</text>
<text class="rt" x="1127" y="295">内存与JVM</text><text class="rt" x="1154" y="285">JVM结构</text><text class="rt" x="1154" y="292">内存分配策略</text><text class="rt" x="1154" y="299">垃圾回收GC</text><text class="rt" x="1154" y="306">内存模型与线程</text></g>
<g id="r-dsa"><rect class="rn" x="1096" y="334" width="43" height="9" rx="2"/><text class="rnt" x="1117.5" y="340.3">数据结构与算法</text>
<text class="rt" x="1146" y="332">数据结构</text><text class="rt" x="1170" y="322">线性结构</text><text class="rt" x="1195" y="322">链表 数组</text><text class="rt" x="1170" y="328">树形结构</text><text class="rt" x="1195" y="328">树 二叉树</text><text class="rt" x="1170" y="338">图</text><text class="rt" x="1184" y="338">图的遍历</text><text class="rt" x="1220" y="335">广度优先</text><text class="rt" x="1220" y="342">深度优先</text>
<text class="rt" x="1146" y="352">算法</text><text class="rt" x="1163" y="349">排序算法</text><text class="rt" x="1163" y="356">查找算法</text></g>
<g id="r-dp"><rect class="rn" x="1094" y="377" width="26" height="9" rx="2"/><text class="rnt" x="1107" y="383.3">设计模式</text>
<text class="rt" x="1127" y="370">单例模式</text><text class="rt" x="1127" y="377">工厂模式</text><text class="rt" x="1127" y="385">代理模式</text><text class="rt" x="1127" y="392">观察者模式</text></g>
<text x="1290" y="554" font-size="17" fill="#b9b9b9" text-anchor="end">@稀土掘金技术社区</text>
</svg>
